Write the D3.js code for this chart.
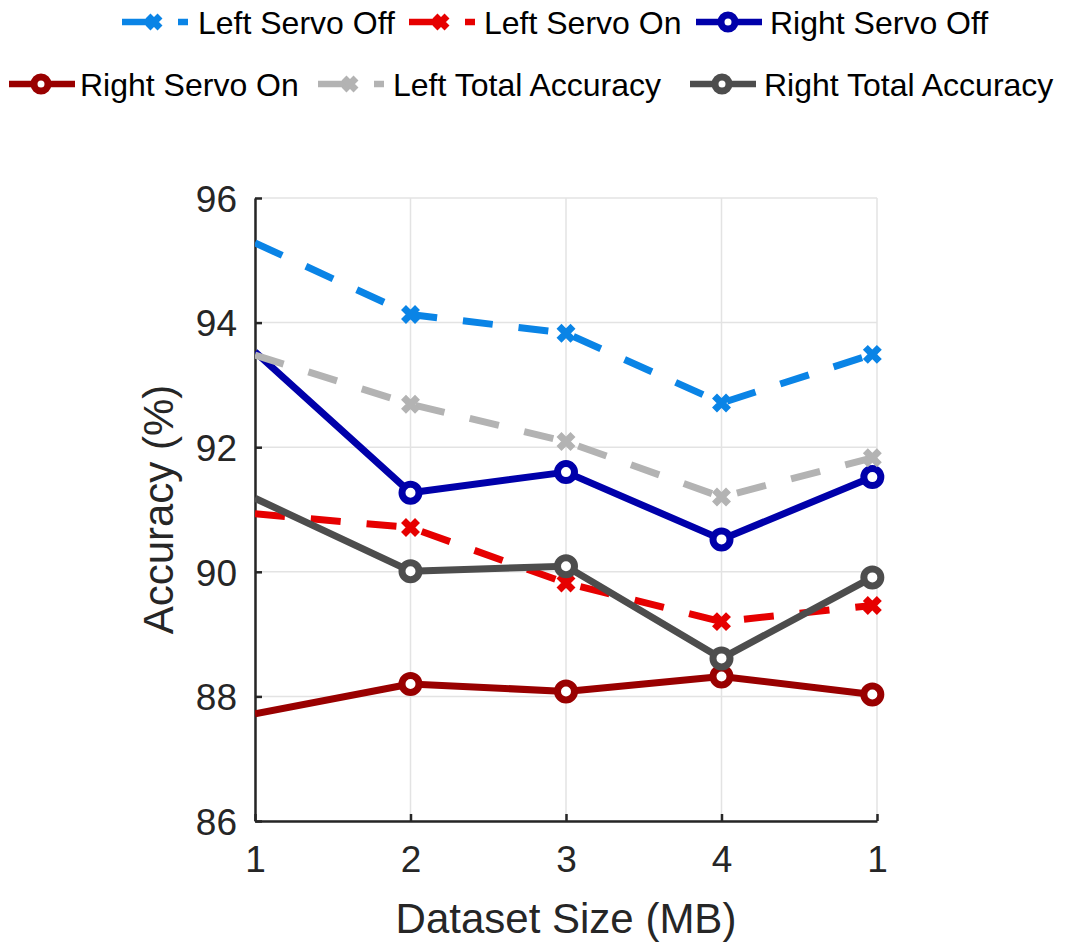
<!DOCTYPE html>
<html>
<head>
<meta charset="utf-8">
<script src="https://cdn.jsdelivr.net/npm/d3@7"></script>
<style>
  html, body { margin: 0; padding: 0; background: #fff; }
  svg { display: block; font-family: "Liberation Sans", Arial, Helvetica, sans-serif; }
</style>
</head>
<body>
<svg id="chart" width="1067" height="942"></svg>
<script>
// Dataset sizes (x positions) and the labels shown under each tick
const xValues = [1, 2, 3, 4, 4.97];
const xTickValues = [1, 2, 3, 4, 5];
const xTickLabels = ["1", "2", "3", "4", "1"];
const yTickValues = [86, 88, 90, 92, 94, 96];

// Accuracy (%) per series
const leftServoOff      = [95.28, 94.13, 93.83, 92.71, 93.49];
const leftServoOn       = [90.93, 90.71, 89.82, 89.20, 89.46];
const rightServoOff     = [93.53, 91.27, 91.60, 90.52, 91.52];
const rightServoOn      = [87.72, 88.20, 88.08, 88.32, 88.03];
const leftTotalAccuracy = [93.48, 92.69, 92.09, 91.20, 91.83];
const rightTotalAccuracy= [91.18, 90.01, 90.09, 88.61, 89.91];

const seriesNames = ["Left Servo Off", "Left Servo On", "Right Servo Off",
                     "Right Servo On", "Left Total Accuracy", "Right Total Accuracy"];
const seriesValues = [leftServoOff, leftServoOn, rightServoOff,
                      rightServoOn, leftTotalAccuracy, rightTotalAccuracy];
const seriesColors = ["#0a84e6", "#e60000", "#0000aa", "#990000", "#b3b3b3", "#4d4d4d"];
const seriesDashed = [true, true, false, false, true, false];
const seriesMarker = ["x", "x", "o", "o", "x", "o"];

const svg = d3.select("#chart");
const margin = { left: 255, right: 190, top: 198, bottom: 121 };
const W = 1067, H = 942;
const x = d3.scaleLinear().domain([1, 5]).range([margin.left, W - margin.right]);
const y = d3.scaleLinear().domain([86, 96]).range([H - margin.bottom, margin.top]);

const axisColor = "#262626";

// grid
const grid = svg.append("g");
grid.selectAll("line.gx").data(xTickValues).join("line")
  .attr("x1", d => x(d)).attr("x2", d => x(d))
  .attr("y1", y(86)).attr("y2", y(96))
  .attr("stroke", "#e3e3e3").attr("stroke-width", 1.5);
grid.selectAll("line.gy").data(yTickValues).join("line")
  .attr("x1", x(1)).attr("x2", x(5))
  .attr("y1", d => y(d)).attr("y2", d => y(d))
  .attr("stroke", "#e3e3e3").attr("stroke-width", 1.5);

// axes
const xAxis = d3.axisBottom(x).tickValues(xTickValues)
  .tickFormat((d, i) => xTickLabels[i]).tickSizeInner(-7).tickSizeOuter(0).tickPadding(25);
const yAxis = d3.axisLeft(y).tickValues(yTickValues)
  .tickFormat(d3.format("d")).tickSizeInner(-7).tickSizeOuter(0).tickPadding(18);

const gx = svg.append("g").attr("transform", `translate(0,${y(86)})`).call(xAxis);
const gy = svg.append("g").attr("transform", `translate(${x(1)},0)`).call(yAxis);
[gx, gy].forEach(g => {
  g.select(".domain").attr("stroke", axisColor).attr("stroke-width", 2.5);
  g.selectAll(".tick line").attr("stroke", axisColor).attr("stroke-width", 2.5);
  g.selectAll(".tick text").attr("fill", axisColor)
    .style("font-size", "37px").style("font-family", "'Liberation Sans', Arial, sans-serif");
});
gx.selectAll(".tick text").attr("dy", "0.71em");
gy.selectAll(".tick text").attr("dy", "0.36em");

// axis titles
svg.append("text")
  .attr("x", x(3)).attr("y", 933)
  .attr("text-anchor", "middle").attr("fill", axisColor)
  .style("font-size", "42px")
  .text("Dataset Size (MB)");
svg.append("text")
  .attr("transform", `translate(173,${(y(86) + y(96)) / 2}) rotate(-90)`)
  .attr("text-anchor", "middle").attr("fill", axisColor)
  .style("font-size", "42px")
  .text("Accuracy (%)");

// markers
function drawMarker(g, type, cx, cy, color, size) {
  if (type === "x") {
    const s = size;
    g.append("path")
      .attr("d", `M${cx - s},${cy - s}L${cx + s},${cy + s}M${cx - s},${cy + s}L${cx + s},${cy - s}`)
      .attr("stroke", color).attr("stroke-width", 7).attr("fill", "none");
  } else {
    g.append("circle").attr("cx", cx).attr("cy", cy).attr("r", size)
      .attr("fill", "#fff").attr("stroke", color).attr("stroke-width", 7);
  }
}

// series
const clipId = "plotClip";
svg.append("clipPath").attr("id", clipId).append("rect")
  .attr("x", x(1)).attr("y", y(96) - 20).attr("width", x(5) - x(1) + 20).attr("height", y(86) - y(96) + 40);

const line = d3.line().x((d, i) => x(xValues[i])).y(d => y(d));
const plot = svg.append("g").attr("clip-path", `url(#${clipId})`);
seriesValues.forEach((vals, k) => {
  const g = plot.append("g");
  g.append("path")
    .attr("d", line(vals))
    .attr("fill", "none")
    .attr("stroke", seriesColors[k])
    .attr("stroke-width", 7)
    .attr("stroke-linejoin", "round")
    .attr("stroke-dasharray", seriesDashed[k] ? "30,26" : null);
  // markers from the second point on
  vals.forEach((v, i) => {
    if (i === 0) return;
    drawMarker(g, seriesMarker[k], x(xValues[i]), y(v), seriesColors[k],
      seriesMarker[k] === "x" ? 7 : 8.5);
  });
});

// legend
const legendItems = [
  { k: 0, sx: 122, tx: 198, y: 22 },
  { k: 1, sx: 409, tx: 484, y: 22 },
  { k: 2, sx: 696, tx: 770, y: 22 },
  { k: 3, sx: 9,   tx: 80,  y: 84 },
  { k: 4, sx: 318, tx: 393, y: 84 },
  { k: 5, sx: 690, tx: 764, y: 84 }
];
const legend = svg.append("g");
legendItems.forEach(it => {
  const c = seriesColors[it.k];
  const sw = 66;
  if (seriesDashed[it.k]) {
    legend.append("line").attr("x1", it.sx).attr("x2", it.sx + 28)
      .attr("y1", it.y).attr("y2", it.y).attr("stroke", c).attr("stroke-width", 6.5);
    legend.append("line").attr("x1", it.sx + 56).attr("x2", it.sx + sw)
      .attr("y1", it.y).attr("y2", it.y).attr("stroke", c).attr("stroke-width", 6.5);
  } else {
    legend.append("line").attr("x1", it.sx).attr("x2", it.sx + sw)
      .attr("y1", it.y).attr("y2", it.y).attr("stroke", c).attr("stroke-width", 6.5);
  }
  drawMarker(legend, seriesMarker[it.k], it.sx + 32, it.y, c, seriesMarker[it.k] === "x" ? 6 : 7);
  legend.append("text").attr("x", it.tx).attr("y", it.y).attr("dy", "0.36em")
    .attr("fill", "#000").style("font-size", "32px").text(seriesNames[it.k]);
});
</script>
</body>
</html>
